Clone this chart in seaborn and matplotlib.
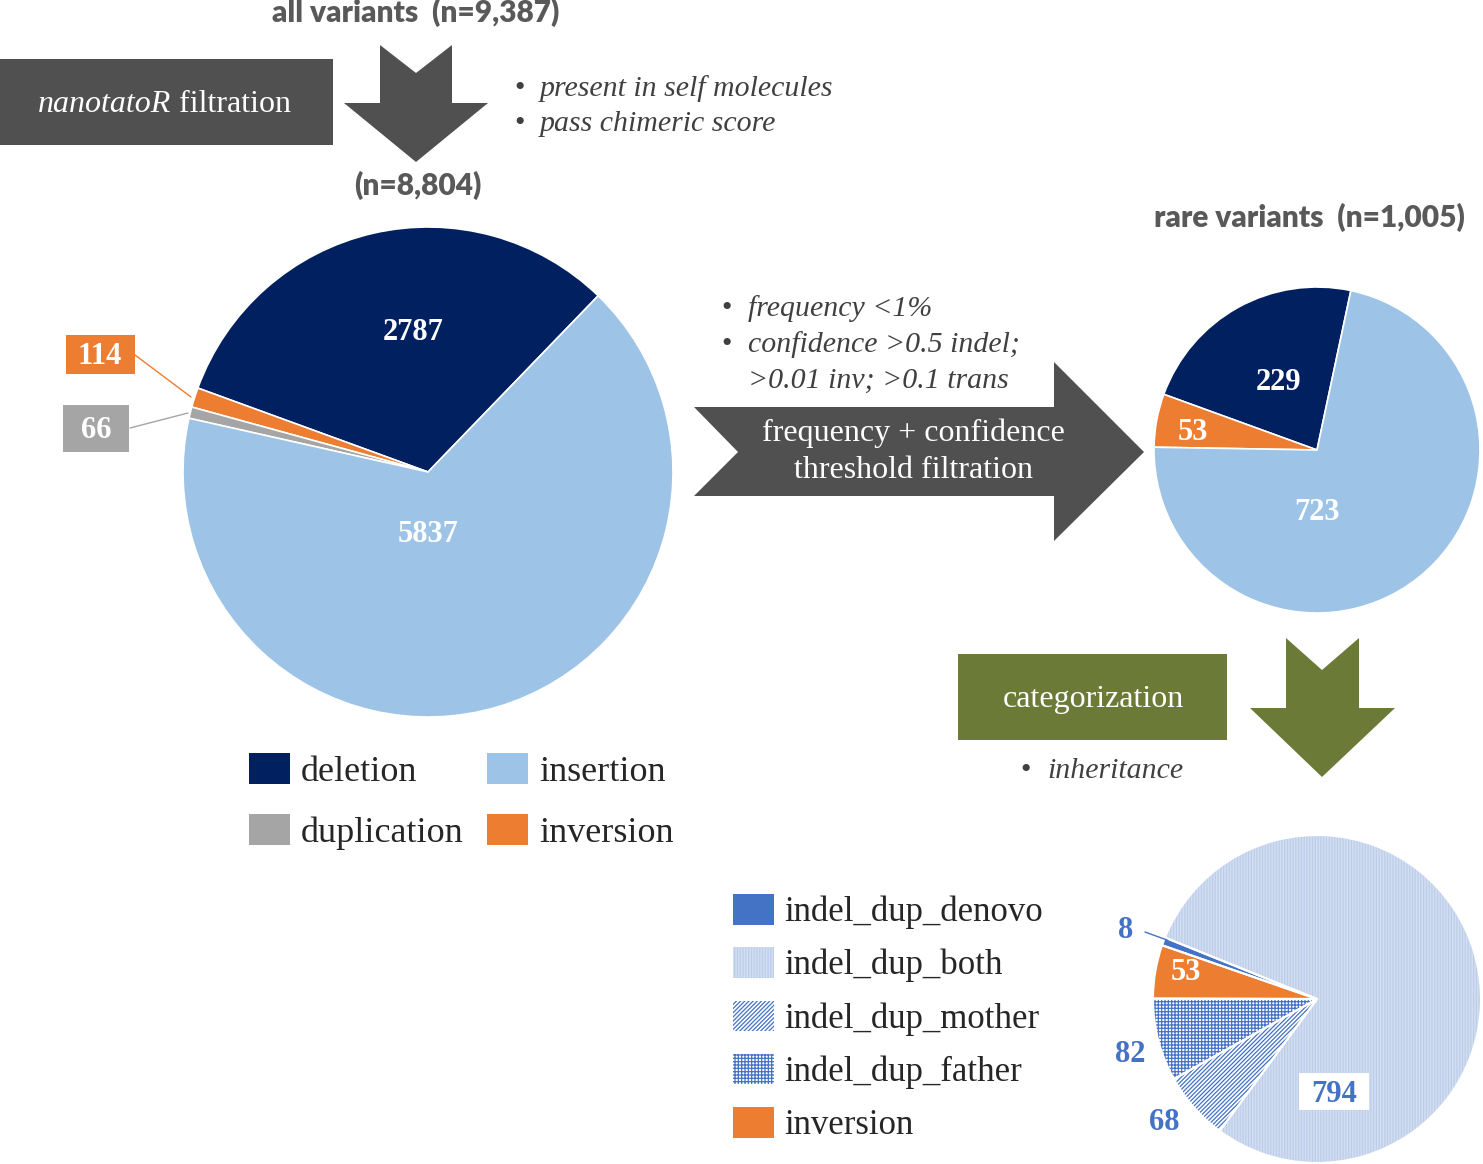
import matplotlib
matplotlib.use("Agg")
import matplotlib.pyplot as plt
from matplotlib.patches import Polygon, Rectangle
import seaborn as sns

sns.set_theme(style="white")
plt.rcParams['font.family'] = ['Liberation Serif', 'DejaVu Serif']
plt.rcParams['hatch.linewidth'] = 0.9

# ---------------- data ----------------
pie1_cats = ['deletion', 'inversion', 'duplication', 'insertion']
pie1_vals = [2787, 114, 66, 5837]
pie2_cats = ['deletion', 'inversion', 'insertion']
pie2_vals = [229, 53, 723]
pie3_cats = ['indel_dup_denovo', 'inversion', 'indel_dup_father', 'indel_dup_mother', 'indel_dup_both']
pie3_vals = [8, 53, 82, 68, 794]

legend1_order = ['deletion', 'duplication', 'insertion', 'inversion']
legend3_order = ['indel_dup_denovo', 'indel_dup_both', 'indel_dup_mother', 'indel_dup_father', 'inversion']

title_all = 'all variants  (n=9,387)'
title_filtered = '(n=8,804)'
title_rare = 'rare variants  (n=1,005)'
bullets_1 = ['present in self molecules', 'pass chimeric score']
bullets_2 = ['frequency <1%', 'confidence >0.5 indel;']
bullets_2_cont = '>0.01 inv; >0.1 trans'
bullets_3 = ['inheritance']

# ---------------- styles ----------------
col1 = {'deletion': '#002060', 'insertion': '#9DC3E6', 'duplication': '#A5A5A5', 'inversion': '#ED7D31'}
face3 = {'indel_dup_denovo': '#4472C4', 'inversion': '#ED7D31', 'indel_dup_father': 'white',
         'indel_dup_mother': 'white', 'indel_dup_both': '#D3DEF1'}
hatch3 = {'indel_dup_denovo': '', 'inversion': '', 'indel_dup_father': '+++++',
          'indel_dup_mother': '////////', 'indel_dup_both': '||||||'}
hcol3 = {'indel_dup_denovo': '#4472C4', 'inversion': '#ED7D31', 'indel_dup_father': '#4472C4',
         'indel_dup_mother': '#4472C4', 'indel_dup_both': '#BCCDEB'}
GRAY = '#505050'
GREEN = '#6B7B37'
TXTGRAY = '#595959'
BLUE = '#4472C4'

W, H = 1483, 1164
fig = plt.figure(figsize=(W / 100, H / 100), dpi=100)
bg = fig.add_axes([0, 0, 1, 1])
bg.set_xlim(0, W)
bg.set_ylim(H, 0)
bg.axis('off')


def pie_axes(cx, cy, r):
    ax = fig.add_axes([(cx - r) / W, (H - cy - r) / H, 2 * r / W, 2 * r / H])
    return ax


def finish(ax):
    ax.set_xlim(-1, 1)
    ax.set_ylim(-1, 1)
    ax.set_aspect('auto')
    ax.axis('off')

# ---------------- pie 1 ----------------
ax1 = pie_axes(428, 472, 245)
w1, _ = ax1.pie(pie1_vals, colors=[col1[c] for c in pie1_cats], startangle=46, counterclock=True,
                radius=1, wedgeprops=dict(edgecolor='white', linewidth=1.2))
finish(ax1)
for w in w1:
    w.set_clip_on(False)

# ---------------- pie 2 ----------------
ax2 = pie_axes(1317, 450, 163)
w2, _ = ax2.pie(pie2_vals, colors=[col1[c] for c in pie2_cats], startangle=78, counterclock=True,
                radius=1, wedgeprops=dict(edgecolor='white', linewidth=1.2))
finish(ax2)

# ---------------- pie 3 ----------------
ax3 = pie_axes(1317, 999, 164)
w3, _ = ax3.pie(pie3_vals, colors=[face3[c] for c in pie3_cats], startangle=158, counterclock=True,
                radius=1, wedgeprops=dict(linewidth=0))
for w, c in zip(w3, pie3_cats):
    w.set_hatch(hatch3[c])
    w.set_edgecolor(hcol3[c])
    w.set_linewidth(0)
w3b, _ = ax3.pie(pie3_vals, colors=['none'] * len(pie3_vals), startangle=158, counterclock=True,
                 radius=1, wedgeprops=dict(edgecolor='white', linewidth=1.5, fill=False))
finish(ax3)

# ---------------- overlay for labels ----------------
fg = fig.add_axes([0, 0, 1, 1])
fg.set_xlim(0, W)
fg.set_ylim(H, 0)
fg.axis('off')
fg.patch.set_alpha(0)

lab_kw = dict(ha='center', va='center', fontsize=22, fontweight='bold', color='white')
v1 = dict(zip(pie1_cats, pie1_vals))
fg.text(413, 332, str(v1['deletion']), **lab_kw)
fg.text(428, 534, str(v1['insertion']), **lab_kw)
fg.add_patch(Rectangle((66, 335), 69, 39, facecolor=col1['inversion'], edgecolor='none'))
fg.text(100, 357, str(v1['inversion']), **lab_kw)
fg.plot([135, 191], [355, 397], color=col1['inversion'], lw=1)
fg.add_patch(Rectangle((63, 405), 66, 47, facecolor=col1['duplication'], edgecolor='none'))
fg.text(96, 430, str(v1['duplication']), **lab_kw)
fg.plot([130, 188], [428, 413], color=col1['duplication'], lw=1)

v2 = dict(zip(pie2_cats, pie2_vals))
fg.text(1279, 383, str(v2['deletion']), **lab_kw)
fg.text(1193, 432, str(v2['inversion']), **lab_kw)
fg.text(1317, 513, str(v2['insertion']), **lab_kw)

v3 = dict(zip(pie3_cats, pie3_vals))
blue_kw = dict(lab_kw, color=BLUE)
fg.text(1126, 931, str(v3['indel_dup_denovo']), **blue_kw)
fg.plot([1145, 1167], [932, 940], color=BLUE, lw=1)
fg.text(1186, 973, str(v3['inversion']), **lab_kw)
fg.text(1130, 1055, str(v3['indel_dup_father']), **blue_kw)
fg.text(1164, 1122, str(v3['indel_dup_mother']), **blue_kw)
fg.add_patch(Rectangle((1299, 1073), 70, 37, facecolor='white', edgecolor='none'))
fg.text(1334, 1094, str(v3['indel_dup_both']), **blue_kw)

# ---------------- arrows and boxes ----------------
bg.add_patch(Rectangle((0, 59), 333, 86, facecolor=GRAY, edgecolor='none'))
t1 = bg.text(38, 119, 'nanotatoR', fontsize=23, style='italic', color='white', ha='left', va='bottom')
bg.annotate(' filtration', xy=(1, 0), xycoords=t1, fontsize=23, color='white', ha='left', va='bottom')

bg.add_patch(Polygon([(380, 45), (416, 73), (452, 45), (452, 103), (488, 103), (416, 162),
                      (344, 103), (380, 103)], closed=True, facecolor=GRAY, edgecolor='none'))

bg.add_patch(Polygon([(694, 407), (1054, 407), (1054, 362), (1144, 452), (1054, 541), (1054, 496),
                      (694, 496), (738, 452)], closed=True, facecolor=GRAY, edgecolor='none'))
bg.text(913, 433, 'frequency + confidence', fontsize=23, color='white', ha='center', va='center')
bg.text(913, 471, 'threshold filtration', fontsize=23, color='white', ha='center', va='center')

bg.add_patch(Rectangle((958, 654), 269, 86, facecolor=GREEN, edgecolor='none'))
bg.text(1093, 700, 'categorization', fontsize=23, color='white', ha='center', va='center')
bg.add_patch(Polygon([(1286, 638), (1322, 670), (1359, 638), (1359, 708), (1395, 708), (1322, 777),
                      (1250, 708), (1286, 708)], closed=True, facecolor=GREEN, edgecolor='none'))

# ---------------- titles ----------------
tt_kw = dict(fontsize=21.5, fontweight='heavy', color=TXTGRAY, family=['Lato', 'DejaVu Sans'],
             ha='center', va='center')
bg.text(416, 12, title_all, **tt_kw)
bg.text(418, 185, title_filtered, **tt_kw)
bg.text(1309, 217, title_rare, **tt_kw)

# ---------------- bullets ----------------
bul_kw = dict(fontsize=21.5, style='italic', color='#404040', ha='left', va='center')
dot_kw = dict(fontsize=21.5, color='#404040', ha='left', va='center')
for i, s in enumerate(bullets_1):
    y = 89 + 35 * i
    bg.text(514, y, '\u2022', **dot_kw)
    bg.text(540, y, s, **bul_kw)
for i, s in enumerate(bullets_2):
    y = 309 + 36 * i
    bg.text(721, y, '\u2022', **dot_kw)
    bg.text(748, y, s, **bul_kw)
bg.text(748, 381, bullets_2_cont, **bul_kw)
for s in bullets_3:
    bg.text(1020, 771, '\u2022', **dot_kw)
    bg.text(1047, 771, s, **bul_kw)

# ---------------- legends ----------------
h1 = {c: w for c, w in zip(pie1_cats, w1)}
leg1 = bg.legend([h1[c] for c in legend1_order], legend1_order, ncol=2, loc='upper left',
                 bbox_to_anchor=(249, 753), bbox_transform=bg.transData, frameon=False,
                 prop={'family': 'Liberation Serif', 'size': 26}, handlelength=1.14, handleheight=0.94,
                 handletextpad=0.3, columnspacing=0.65, labelspacing=0.7, borderpad=0, borderaxespad=0)
for lh in leg1.legend_handles:
    lh.set_edgecolor('none')
bg.add_artist(leg1)

h3 = {c: w for c, w in zip(pie3_cats, w3)}
leg3 = bg.legend([h3[c] for c in legend3_order], legend3_order, ncol=1, loc='upper left',
                 bbox_to_anchor=(733, 894), bbox_transform=bg.transData, frameon=False,
                 prop={'family': 'Liberation Serif', 'size': 25}, handlelength=1.18, handleheight=0.98,
                 handletextpad=0.3, labelspacing=0.52, borderpad=0, borderaxespad=0)

fig.savefig('out.png', dpi=100)
